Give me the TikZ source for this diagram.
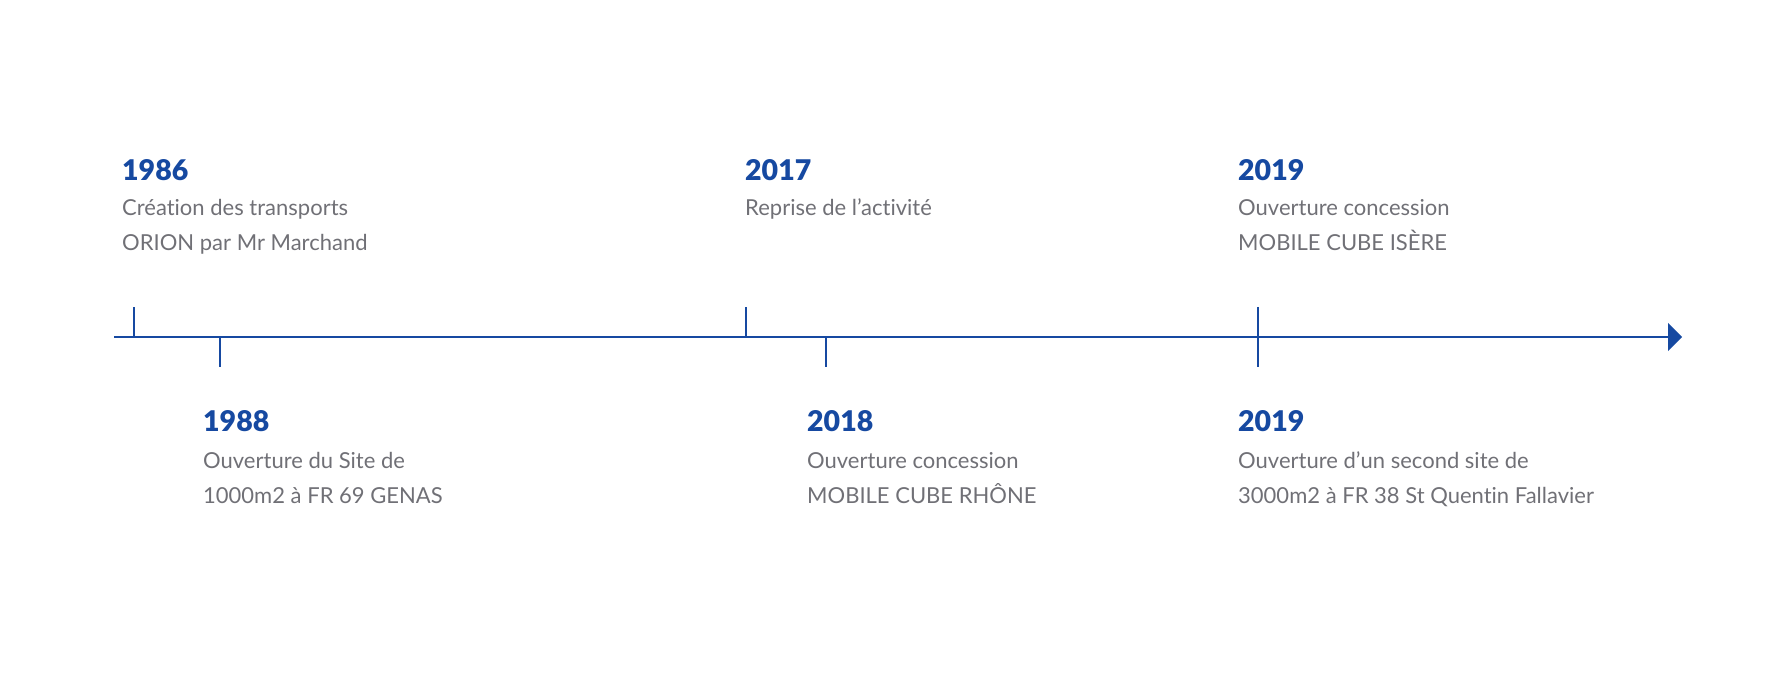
\documentclass[tikz,border=0pt]{standalone}
\usepackage{fontspec}
\setmainfont{Lato}[Ligatures={NoCommon}]
\newfontfamily\yrfont{Lato Black}
\usetikzlibrary{arrows.meta}
\usetikzlibrary{positioning}
\definecolor{tl}{RGB}{22,73,161}
\definecolor{tx}{RGB}{112,112,118}

\begin{document}
\begin{tikzpicture}[
    x=1pt, y=1pt,
    yr/.style={
        anchor=base west, inner sep=0, text=tl,
        font=\fontsize{28.5}{30}\selectfont\yrfont
    },
    ev/.style={
        inner sep=0, text=tx, align=left,
        font=\fontsize{22}{34.5}\selectfont
    },
    tick/.style={
        line width=2pt, draw=tl
    }
]

    \useasboundingbox (0,0) rectangle (1792,675);
    \coordinate (start) at (114,338);
    \coordinate (end) at (1682,338);
    \draw[tick, -{Triangle[length=14pt,width=28pt]}] (start) -- (end);

    % ticks
    \coordinate (t86) at (134,338);
    \coordinate (t88) at (220,338);
    \coordinate (t17) at (746,338);
    \coordinate (t18) at (826,338);
    \coordinate (t19) at (1258,338);
    \draw[tick] (t86) -- +(0,30);
    \draw[tick] (t88) -- +(0,-30);
    \draw[tick] (t17) -- +(0,30);
    \draw[tick] (t18) -- +(0,-30);
    \draw[tick] (t19) ++(0,30) -- +(0,-60);

    % above the line (base = last line)
    \node[yr] (y86) at (122,494) {1986};
    \node[ev, below=69.5pt of y86.base west, anchor=base west] (e86)
        {Création des transports\\ORION par Mr Marchand};
    \node[yr] (y17) at (745,494) {2017};
    \node[ev, below=35pt of y17.base west, anchor=base west] (e17)
        {Reprise de l’activité};
    \node[yr] (y19a) at (1238,494) {2019};
    \node[ev, below=69.5pt of y19a.base west, anchor=base west] (e19a)
        {Ouverture concession\\MOBILE CUBE ISÈRE};

    % below the line
    \node[yr] (y88) at (203,243) {1988};
    \node[ev, below=71.5pt of y88.base west, anchor=base west] (e88)
        {Ouverture du Site de\\1000m2 à FR 69 GENAS};
    \node[yr] (y18) at (807,243) {2018};
    \node[ev, below=71.5pt of y18.base west, anchor=base west] (e18)
        {Ouverture concession\\MOBILE CUBE RHÔNE};
    \node[yr] (y19b) at (1238,243) {2019};
    \node[ev, below=71.5pt of y19b.base west, anchor=base west] (e19b)
        {Ouverture d’un second site de\\3000m2 à FR 38 St Quentin Fallavier};

\end{tikzpicture}
\end{document}
